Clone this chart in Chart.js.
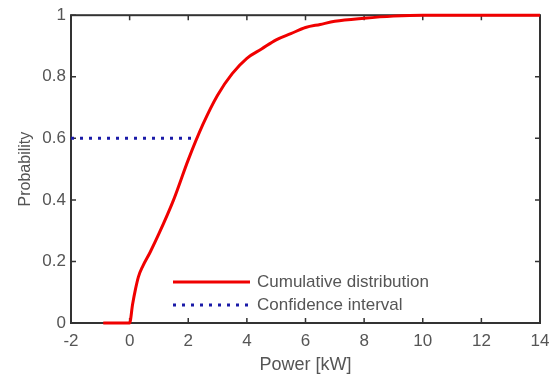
<!DOCTYPE html>
<html>
<head>
<meta charset="utf-8">
<script src="https://cdn.jsdelivr.net/npm/chart.js@4.4.0/dist/chart.umd.min.js"></script>
<style>
	body { margin: 0; background: #fff; }
	#wrap { width: 558px; height: 382px; }
</style>
</head>
<body>
<div id="wrap"><canvas id="chart-cdf"></canvas></div>
<script>
// Data
const powerKw = [-0.9, 0, 0.1, 0.2, 0.3, 0.45, 0.7, 1.0, 1.5, 2.0, 2.5, 3.0, 3.5, 4.0, 4.5, 5.0, 5.5, 6.0, 6.5, 7.0, 8.0, 9.0, 10.0, 14.0];
const cumProb = [0, 0, 0.06, 0.11, 0.15, 0.185, 0.23, 0.29, 0.40, 0.53, 0.645, 0.74, 0.81, 0.86, 0.89, 0.92, 0.94, 0.96, 0.97, 0.98, 0.99, 0.997, 1, 1];
const confX = [-2, 2.3];
const confY = [0.6, 0.6];
const xTicks = [-2, 0, 2, 4, 6, 8, 10, 12, 14];
const yTicks = [0, 0.2, 0.4, 0.6, 0.8, 1];

const gray = '#555';
const axisColor = '#333';
const font = 'Liberation Sans, Arial, sans-serif';

// box + inward ticks like matlab, drawn under the lines
const boxPlugin = {
	id: 'box',
	beforeDatasetsDraw(chart) {
		const { ctx, chartArea: a, scales } = chart;
		ctx.save();
		ctx.strokeStyle = axisColor;
		ctx.lineWidth = 2;
		ctx.strokeRect(a.left, a.top, a.right - a.left, a.bottom - a.top);
		ctx.lineWidth = 1.5;
		ctx.beginPath();
		xTicks.forEach((v) => {
			const px = scales.x.getPixelForValue(v);
			ctx.moveTo(px, a.bottom); ctx.lineTo(px, a.bottom - 5);
			ctx.moveTo(px, a.top); ctx.lineTo(px, a.top + 5);
		});
		yTicks.forEach((v) => {
			const py = scales.y.getPixelForValue(v);
			ctx.moveTo(a.left, py); ctx.lineTo(a.left + 5, py);
			ctx.moveTo(a.right, py); ctx.lineTo(a.right - 5, py);
		});
		ctx.stroke();
		ctx.restore();
	},
	afterDatasetsDraw(chart) {
		const { ctx } = chart;
		// legend inside the plot
		const x0 = 173, x1 = 250;
		const rows = [282, 305];
		ctx.save();
		chart.data.datasets.forEach((ds, i) => {
			const y = rows[i];
			ctx.beginPath();
			ctx.strokeStyle = ds.borderColor;
			ctx.lineWidth = ds.borderWidth;
			ctx.setLineDash(ds.borderDash || []);
			ctx.moveTo(x0, y); ctx.lineTo(x1, y);
			ctx.stroke();
			ctx.setLineDash([]);
			ctx.fillStyle = gray;
			ctx.font = '17px ' + font;
			ctx.textBaseline = 'middle';
			ctx.fillText(ds.label, 257, y);
		});
		ctx.restore();
	},
};

const ctx = document.getElementById('chart-cdf');

new Chart(ctx, {
	type: 'scatter',
	data: {
		datasets: [
			{
				label: 'Cumulative distribution',
				data: powerKw.map((x, i) => ({ x: x, y: cumProb[i] })),
				showLine: true,
				borderColor: '#f00000',
				borderWidth: 3,
				pointRadius: 0,
				cubicInterpolationMode: 'monotone',
				clip: false,
			},
			{
				label: 'Confidence interval',
				data: confX.map((x, i) => ({ x: x, y: confY[i] })),
				showLine: true,
				borderColor: '#1a1aa8',
				borderWidth: 3,
				borderDash: [3, 6],
				pointRadius: 0,
			},
		],
	},
	options: {
		responsive: true,
		maintainAspectRatio: false,
		animation: false,
		layout: { padding: { left: 12, top: 10, right: 18, bottom: 0 } },
		scales: {
			x: {
				type: 'linear',
				min: -2,
				max: 14,
				afterFit: (s) => { s.height = 59; },
				afterBuildTicks: (s) => { s.ticks = xTicks.map((v) => ({ value: v })); },
				grid: { display: false, drawTicks: false },
				border: { display: false },
				ticks: { color: gray, font: { family: font, size: 17 }, padding: 8 },
				title: { display: true, text: 'Power [kW]', color: gray, font: { family: font, size: 18 }, padding: { top: 0, bottom: 6 } },
			},
			y: {
				min: 0,
				max: 1,
				afterFit: (s) => { s.width = 59; },
				afterBuildTicks: (s) => { s.ticks = yTicks.map((v) => ({ value: v })); },
				grid: { display: false, drawTicks: false },
				border: { display: false },
				ticks: {
					color: gray,
					font: { family: font, size: 17 },
					padding: 5,
					callback: (v) => String(v),
				},
				title: { display: true, text: 'Probability', color: gray, font: { family: font, size: 16 }, padding: { bottom: 0 } },
			},
		},
		plugins: {
			legend: { display: false },
			tooltip: { enabled: false },
		},
	},
	plugins: [boxPlugin],
});
</script>
</body>
</html>
